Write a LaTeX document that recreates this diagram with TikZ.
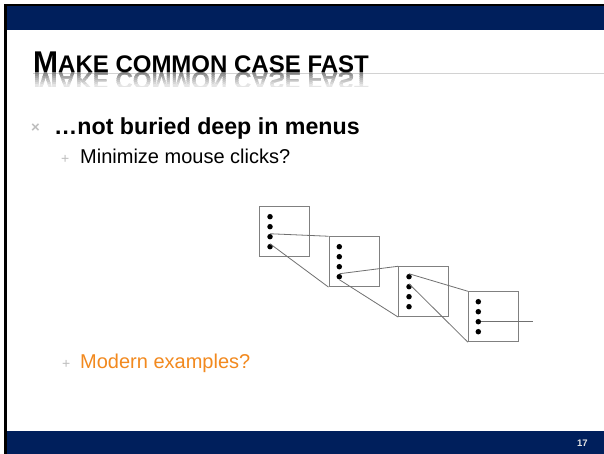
\documentclass[tikz,border=0pt]{standalone}
\usepackage{fontspec}
\setmainfont{Liberation Sans}
\definecolor{navy}{RGB}{0,31,92}
\definecolor{boxgray}{RGB}{128,128,128}
\definecolor{linegray}{RGB}{112,112,112}
\definecolor{bulgray}{RGB}{190,190,190}
\definecolor{orng}{RGB}{242,137,30}
\tikzset{
  mbox/.style={draw=boxgray, line width=0.9pt, minimum size=50pt, inner sep=0, fill=white},
  dotn/.style={circle, fill=black, minimum size=5.5pt, inner sep=0},
  conn/.style={draw=linegray, line width=0.8pt},
  txt/.style={inner sep=0, anchor=base west},
}
\newcommand{\titletext}{{\fontsize{30}{30}\selectfont\bfseries M\fontsize{24}{24}\selectfont AKE COMMON CASE FAST}}
\begin{document}
\begin{tikzpicture}[x=1pt,y=-1pt]
\useasboundingbox (0,0) rectangle (604,454);
\fill[white] (0,0) rectangle (604,454);
% frame
\fill[navy] (6.7,6) rectangle (604,30);
\fill[navy] (6.7,431) rectangle (604,454);
\fill[black] (4.3,4.3) rectangle (604,6.3);
\fill[black] (4.3,4.3) rectangle (6.7,454);
% title
\draw[gray!35, line width=0.8pt] (33,73.5) -- (604,73.5);
\foreach \i/\c in {0/50,1/42,2/35,3/28,4/22,5/16,6/10} {
  \begin{scope}
    \clip (30,{73+2*\i}) rectangle (420,{75+2*\i});
    \node[txt, yscale=-1, text=black!\c] (refl\i) at (33,73) {\titletext};
  \end{scope}
}
\node[txt] (title) at (33,73) {\titletext};
% bullets
\node[txt, text=bulgray] (bx) at (31,133) {\fontsize{15}{15}\selectfont\bfseries ×};
\node[txt] (b1t) at (54,135) {\fontsize{23.2}{23.2}\selectfont\bfseries …not buried deep in menus};
\node[txt, text=bulgray] (p1) at (61,164) {\fontsize{14}{14}\selectfont +};
\node[txt] (b2t) at (80,164) {\fontsize{20}{20}\selectfont Minimize mouse clicks?};
\node[txt, text=bulgray] (p2) at (62,368) {\fontsize{14}{14}\selectfont +};
\node[txt, text=orng] (b3t) at (80,368) {\fontsize{20}{20}\selectfont Modern examples?};
% page number
\node[txt, text=white!80!gray] (pg) at (577,446.5) {\fontsize{9.5}{9.5}\selectfont\bfseries 17};
% boxes
\node[mbox] (B1) at (284.3,231.7) {};
\node[mbox] (B2) at (354,261.7) {};
\node[mbox] (B3) at (423.7,291.7) {};
\node[mbox] (B4) at (493.3,316.7) {};
\foreach \b/\x/\y in {1/270/216.7, 2/339.3/246.7, 3/409/276.7, 4/478.3/301.7} {
  \foreach \k in {1,2,3,4} {
    \node[dotn] (d\b\k) at (\x,{\y+10*(\k-1)}) {};
  }
}
\coordinate (tail) at (533.3,321.7);
\draw[conn] (d13.north) -- (B2.north west);
\draw[conn] (d14.north) -- (B2.south west);
\draw[conn] (d24.north) -- (B3.north west);
\draw[conn] (d24.south) -- (B3.south west);
\draw[conn] (d31.north) -- (B4.north west);
\draw[conn] (d32.north) -- (B4.south west);
\draw[conn] (d43.east) -- (tail);
\end{tikzpicture}
\end{document}
